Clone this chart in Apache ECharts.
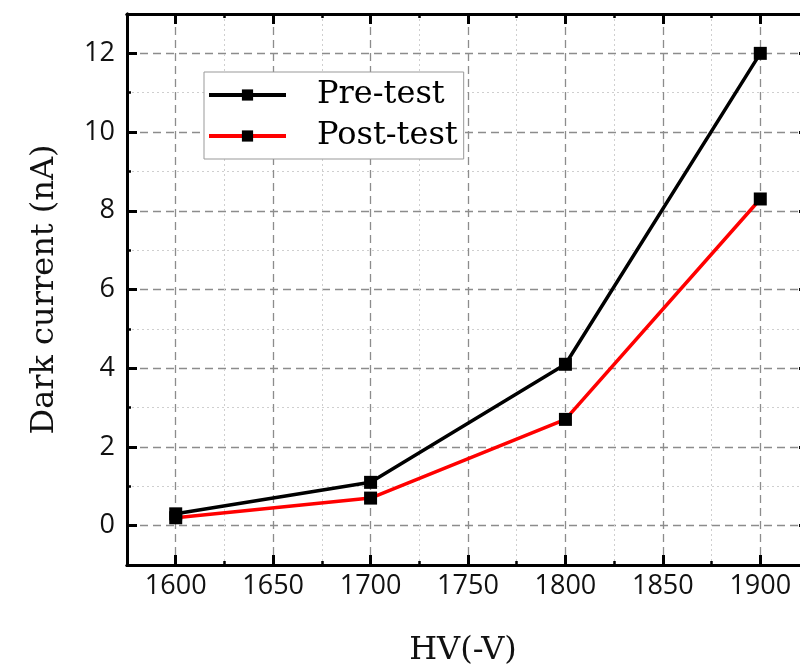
<!DOCTYPE html>
<html>
<head>
<meta charset="utf-8">
<script src="https://cdn.jsdelivr.net/npm/echarts@6/dist/echarts.min.js"></script>
<style>
html,body{margin:0;padding:0;background:#fff;}
#chart{width:800px;height:672px;}
</style>
</head>
<body>
<div id="chart"></div>
<script>
// Data
const hvValues = [1600, 1700, 1800, 1900];
const preTest = [0.3, 1.1, 4.1, 12.0];
const postTest = [0.2, 0.7, 2.7, 8.3];
const seriesNames = ['Pre-test', 'Post-test'];
const xTitle = 'HV(-V)';
const yTitle = 'Dark current (nA)';

const serif = 'DejaVu Serif';
const sans = 'Open Sans';

function pairs(xs, ys) { return xs.map((x, i) => [x, ys[i]]); }

const axisLine = { show: true, onZero: false, lineStyle: { color: '#000', width: 3 } };
const majorTick = { show: true, inside: true, length: 10, lineStyle: { color: '#000', width: 3 } };
const minorTick = { show: true, inside: true, length: 4, lineStyle: { color: '#000', width: 2.5 } };
const majorSplit = { show: true, lineStyle: { color: '#8c8c8c', width: 1.3, type: [8, 5] } };
const minorSplit = { show: true, lineStyle: { color: '#cfcfcf', width: 1, type: [2, 3] } };

const chart = echarts.init(document.getElementById('chart'), null, { renderer: 'canvas', width: 800, height: 672 });

const option = {
  backgroundColor: '#fff',
  animation: false,
  grid: { left: 127, width: 682, top: 14, height: 551, containLabel: false, outerBoundsMode: 'none' },
  legend: {
    data: seriesNames,
    orient: 'vertical',
    left: 204,
    top: 72,
    padding: [7, 6, 7, 3],
    itemWidth: 77,
    itemHeight: 14,
    itemGap: 9,
    backgroundColor: '#fff',
    borderColor: '#999',
    borderWidth: 1,
    lineStyle: { width: 4 },
    textStyle: { fontFamily: serif, fontSize: 32, color: '#000', lineHeight: 32,
      padding: [0, 0, 0, 26], width: 117, overflow: 'none' }
  },
  xAxis: [
    {
      type: 'value', position: 'bottom', min: 1575, max: 1925, splitNumber: 7,
      axisLine: axisLine, axisTick: majorTick, splitLine: majorSplit,
      axisLabel: { show: true, margin: 8, fontFamily: sans, fontSize: 27, color: '#111',
        formatter: v => (v % 50 === 0 ? String(v) : '') },
      name: xTitle, nameLocation: 'middle', nameGap: 70,
      nameTextStyle: { fontFamily: serif, fontSize: 32, color: '#111', padding: [0, 10, 0, 0] }
    },
    {
      type: 'value', position: 'bottom', min: 0, max: 350, interval: 50,
      axisLine: axisLine, axisTick: minorTick, splitLine: minorSplit, axisLabel: { show: false }
    },
    {
      type: 'value', position: 'top', min: 1575, max: 1925, splitNumber: 7,
      axisLine: axisLine, axisTick: majorTick, splitLine: { show: false }, axisLabel: { show: false }
    },
    {
      type: 'value', position: 'top', min: 0, max: 350, interval: 50,
      axisLine: axisLine, axisTick: minorTick, splitLine: { show: false }, axisLabel: { show: false }
    }
  ],
  yAxis: [
    {
      type: 'value', position: 'left', min: -1, max: 13, splitNumber: 7,
      axisLine: axisLine, axisTick: majorTick, splitLine: majorSplit,
      axisLabel: { show: true, margin: 12, fontFamily: sans, fontSize: 27, color: '#111',
        formatter: v => (Math.abs(v % 2) < 1e-9 ? String(Math.round(v)) : '') },
      name: yTitle, nameLocation: 'middle', nameGap: 66,
      nameTextStyle: { fontFamily: serif, fontSize: 32, color: '#111' }
    },
    {
      type: 'value', position: 'left', min: 0, max: 14, interval: 2,
      axisLine: axisLine, axisTick: minorTick, splitLine: minorSplit, axisLabel: { show: false }
    },
    {
      type: 'value', position: 'right', min: -1, max: 13, splitNumber: 7,
      axisLine: axisLine, axisTick: majorTick, splitLine: { show: false }, axisLabel: { show: false }
    },
    {
      type: 'value', position: 'right', min: 0, max: 14, interval: 2,
      axisLine: axisLine, axisTick: minorTick, splitLine: { show: false }, axisLabel: { show: false }
    }
  ],
  series: [
    {
      name: seriesNames[0], type: 'line', xAxisIndex: 0, yAxisIndex: 0,
      data: pairs(hvValues, preTest),
      symbol: 'rect', symbolSize: 13, showAllSymbol: true,
      lineStyle: { color: '#000', width: 3.5 },
      itemStyle: { color: '#000', borderWidth: 0 },
      z: 3
    },
    {
      name: seriesNames[1], type: 'line', xAxisIndex: 0, yAxisIndex: 0,
      data: pairs(hvValues, postTest),
      symbol: 'rect', symbolSize: 13, showAllSymbol: true,
      lineStyle: { color: '#ff0000', width: 3.5 },
      itemStyle: { color: '#000', borderWidth: 0 },
      z: 3
    }
  ]
};
chart.setOption(option);
</script>
</body>
</html>
